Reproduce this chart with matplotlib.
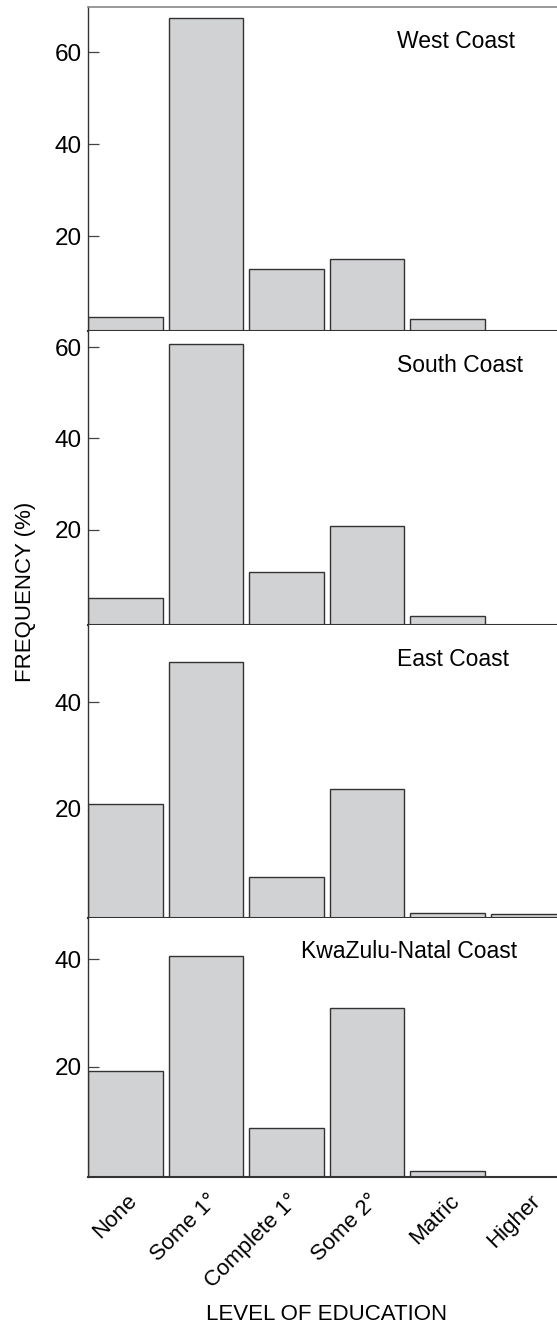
import numpy as np
import matplotlib.pyplot as plt
from matplotlib.transforms import ScaledTranslation

plt.rcParams['font.family'] = ['Liberation Sans', 'DejaVu Sans']

# Data: frequency (%) of each education level, per coast
levels = ["None", "Some 1°", "Complete 1°", "Some 2°", "Matric", "Higher"]
regions = ["West Coast", "South Coast", "East Coast", "KwaZulu-Natal Coast"]
west = [2.5, 67.3, 12.8, 14.9, 1.9, 0.0]
south = [5.1, 60.7, 10.8, 20.9, 1.3, 0.0]
east = [21.0, 47.6, 7.3, 23.7, 0.5, 0.2]
kzn = [19.2, 40.7, 8.6, 30.9, 0.6, 0.0]
series = [west, south, east, kzn]

# Layout (pixels in a 557x1328 image)
W, H = 557, 1328
left_px = 88
panels = [
    # top, bottom, ymin, ymax, ticks, label x, label y, label ha
    (7, 331, -0.65, 69.8, [20, 40, 60], 397, 42, "left"),
    (331, 625, -0.77, 63.5, [20, 40, 60], 397, 365, "left"),
    (625, 918, -0.47, 54.5, [20, 40], 397, 659, "left"),
    (918, 1177, -0.56, 47.7, [20, 40], 517, 952, "right"),
]

bar_face = "#d1d2d4"
bar_edge = "#333333"

fig = plt.figure(figsize=(W / 100, H / 100), dpi=100)
x = np.arange(len(levels))

for i, (vals, name, p) in enumerate(zip(series, regions, panels)):
    top, bot, ymin, ymax, ticks, lx, ly, lha = p
    ax = fig.add_axes([left_px / W, (H - bot) / H, (W - left_px) / W, (bot - top) / H])
    vals = np.array(vals)
    keep = vals > 0
    # bars rise from the bottom of the frame, which sits just below zero
    ax.bar(x[keep], vals[keep] - ymin, bottom=ymin, width=0.925, color=bar_face,
           edgecolor=bar_edge, linewidth=1.0, zorder=2)
    ax.set_xlim(-0.4625, 5.36)
    ax.set_ylim(ymin, ymax)
    ax.set_yticks(ticks)
    ax.tick_params(axis='y', direction='in', length=8, width=0.9,
                   color="#444444", labelsize=17.5, pad=4.5)
    ax.spines['right'].set_visible(False)
    ax.spines['left'].set_color("#333333")
    ax.spines['left'].set_linewidth(1.0)
    ax.spines['bottom'].set_color("#333333")
    ax.spines['bottom'].set_linewidth(1.5)
    if i == 0:
        ax.spines['top'].set_color("#888888")
        ax.spines['top'].set_linewidth(1.2)
    else:
        ax.spines['top'].set_visible(False)
    ax.text((lx - left_px) / (W - left_px), (bot - ly) / (bot - top), name,
            transform=ax.transAxes, ha=lha, va='center', fontsize=16.5)
    if i < 3:
        ax.set_xticks([])
    else:
        ax.set_xticks(x)
        ax.set_xticklabels(levels, rotation=45, ha='right', va='center',
                           rotation_mode='anchor', fontsize=16)
        ax.tick_params(axis='x', length=0, pad=15)
        offset = ScaledTranslation(9 / 100, 0, fig.dpi_scale_trans)
        for lab in ax.get_xticklabels():
            lab.set_transform(lab.get_transform() + offset)

fig.text(26 / W, (H - 592) / H, "FREQUENCY (%)", rotation=90,
         ha='center', va='center', fontsize=16)
fig.text(327 / W, (H - 1315) / H, "LEVEL OF EDUCATION",
         ha='center', va='center', fontsize=16)

fig.savefig("out.png", dpi=100)
